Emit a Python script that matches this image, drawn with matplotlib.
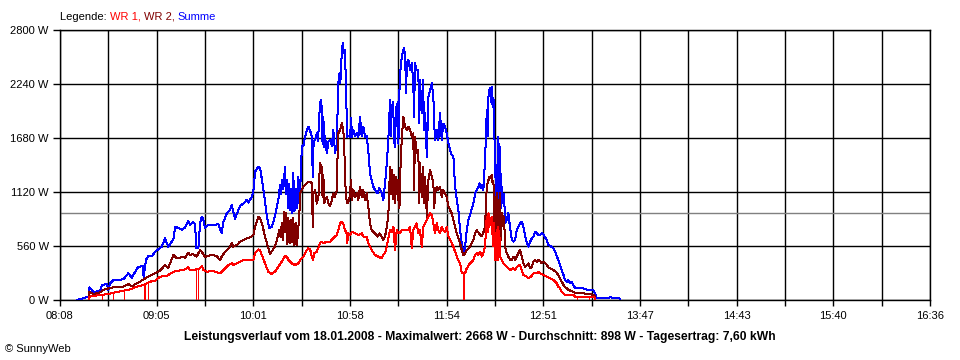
import numpy as np
import matplotlib
matplotlib.use("Agg")
import matplotlib.pyplot as plt
from matplotlib.ticker import FixedLocator, NullFormatter

plt.rcParams['font.family'] = ['Liberation Sans', 'DejaVu Sans']

summe = [
    (18.1, 0), (24.9, 35), (25.2, 130), (27.4, 86), (31.4, 90), (32.4, 155), (35.3, 166), (36.3, 104),
    (37.2, 170), (39.1, 207), (45.0, 214), (47.9, 277), (49.9, 231), (53.7, 345), (56.3, 350), (56.8, 242),
    (58.2, 415), (59.6, 456), (61.7, 456), (63.5, 500), (65.4, 525), (67.4, 553), (69.3, 640), (71.2, 553),
    (74.2, 629), (75.2, 760), (77.1, 745), (79.1, 730), (81.0, 750), (82.9, 822), (83.9, 778), (85.8, 808),
    (86.8, 790), (87.7, 536), (88.8, 536), (89.8, 795), (90.8, 864), (91.5, 850), (92.7, 746), (94.6, 778),
    (98.5, 778), (100.4, 790), (102.4, 691), (103.4, 809), (105.4, 899), (107.3, 933), (108.3, 985),
    (109.0, 930), (110.2, 840), (111.4, 900), (113.1, 975), (115.0, 1000), (117.0, 1037), (118.0, 1010),
    (120.0, 1070), (120.9, 1123), (121.9, 1330), (123.8, 1382), (124.8, 1370), (125.8, 1260), (127.1, 1106),
    (128.7, 881), (130.2, 743), (131.8, 760), (133.6, 881), (135.5, 1037), (136.5, 1192), (137.1, 1100),
    (137.7, 1244), (138.4, 1150), (139.4, 1382), (140.0, 1100), (140.6, 1250), (141.2, 950), (141.7, 1200),
    (142.3, 933), (142.9, 1150), (143.5, 900), (144.2, 1318), (144.9, 920), (145.8, 1150), (146.4, 950),
    (147.2, 1280), (147.9, 980), (148.5, 1250), (149.2, 1590), (150.1, 1600), (151.1, 1693), (152.1, 1763),
    (153.0, 1797), (154.0, 1760), (155.0, 1693), (155.6, 1279), (156.1, 1650), (156.9, 1659), (157.9, 1728),
    (158.7, 1650), (159.3, 1900), (159.8, 2004), (160.2, 2074), (160.8, 2000), (161.3, 1620), (161.8, 1900),
    (162.2, 1590), (162.8, 1700), (163.8, 1521), (164.7, 1640), (165.7, 1659), (166.7, 1600), (167.6, 1763),
    (168.6, 1521), (169.6, 1620), (170.5, 2247), (171.1, 2350), (171.7, 2250), (172.5, 2558), (173.1, 2662),
    (173.6, 2560), (174.4, 2593), (175.0, 2200), (175.7, 1693), (176.4, 1700), (177.4, 1693), (178.0, 1884),
    (178.5, 1693), (179.3, 1763), (180.3, 1700), (181.3, 1730), (182.2, 1690), (183.2, 1901), (184.1, 1700),
    (185.1, 1797), (186.1, 1693), (187.1, 1700), (188.0, 1556), (189.0, 1314), (190.0, 1244), (191.0, 1175),
    (191.9, 1140), (193.3, 1106), (194.5, 1160), (195.9, 1106), (196.8, 1037), (197.8, 1210), (198.8, 1417),
    (199.7, 1659), (200.7, 2074), (201.3, 1700), (201.7, 2000), (202.5, 2050), (203.1, 1650), (203.6, 1590),
    (204.2, 2000), (204.6, 1900), (205.1, 2050), (205.6, 1620), (206.0, 2074), (206.6, 2350), (207.6, 2523),
    (208.5, 2593), (208.9, 2610), (209.5, 2540), (210.1, 2143), (210.5, 2454), (211.4, 2490), (212.4, 2385),
    (213.4, 2454), (214.3, 2247), (214.7, 1900), (215.3, 2454), (216.3, 2385), (217.2, 2385), (217.8, 1830),
    (218.2, 2281), (219.2, 1935), (220.0, 2281), (220.6, 1763), (221.2, 1935), (222.2, 1486), (223.1, 2108),
    (224.1, 2178), (225.1, 2247), (226.0, 2108), (226.5, 1830), (227.0, 1659), (228.0, 1763), (228.9, 1659),
    (229.9, 1936), (230.9, 1659), (231.8, 1830), (232.8, 1795), (233.8, 1728), (234.8, 1625), (235.8, 1556),
    (236.7, 1503), (237.7, 1490), (238.7, 1175), (239.7, 1037), (240.6, 933), (241.6, 726), (242.6, 588),
    (243.5, 500), (244.5, 540), (245.5, 726), (246.4, 830), (247.4, 881), (249.4, 1002), (250.4, 1106),
    (251.3, 1140), (252.3, 1175), (252.9, 1210), (253.6, 1160), (254.3, 1190), (255.2, 1140), (256.2, 1452),
    (256.8, 1763), (257.2, 1970), (257.7, 1700), (258.2, 2108), (258.7, 2178), (259.1, 2195), (259.6, 2050),
    (260.1, 2212), (260.6, 2000), (261.1, 2100), (261.5, 1760), (262.0, 1521), (262.6, 1000), (263.0, 1400),
    (263.5, 950), (264.0, 1693), (264.5, 900), (265.0, 1590), (265.5, 950), (265.9, 1175), (266.5, 1036),
    (266.9, 1002), (267.3, 1100), (267.9, 795), (268.9, 830), (269.8, 900), (270.2, 830), (270.8, 760),
    (271.8, 622), (272.8, 605), (273.7, 622), (274.7, 726), (275.7, 760), (276.6, 795), (277.6, 812),
    (278.6, 760), (279.6, 657), (280.5, 600), (281.5, 553), (282.5, 605), (283.5, 640), (284.4, 657),
    (285.4, 708), (286.4, 690), (287.3, 674), (288.3, 674), (289.3, 691), (290.3, 680), (291.2, 650),
    (292.2, 622), (293.2, 570), (294.2, 560), (296.1, 536), (297.1, 501), (298.0, 456), (299.0, 415),
    (300.0, 363), (301.0, 311), (302.0, 259), (302.9, 207), (303.9, 190), (304.9, 207), (305.8, 173),
    (306.8, 190), (307.8, 155), (308.8, 121), (313.6, 121), (316.5, 104), (319.4, 104), (320.4, 69),
    (321.4, 17), (327.3, 17), (329.2, 27), (333.1, 20), (334.6, 17), (335.0, 0),
]

wr2 = [
    (25.1, 0), (25.2, 86), (27.4, 62), (31.4, 80), (33.3, 104), (36.2, 120), (39.1, 131), (45.0, 140),
    (47.9, 166), (49.9, 140), (52.4, 170), (54.7, 190), (58.6, 235), (62.5, 270), (66.4, 304), (69.3, 363),
    (71.2, 332), (74.2, 467), (75.7, 440), (77.1, 433), (79.8, 450), (81.0, 440), (82.9, 490), (83.9, 467),
    (85.8, 475), (87.8, 450), (89.8, 518), (90.8, 500), (92.7, 446), (94.6, 460), (97.4, 467), (99.5, 455),
    (101.4, 415), (102.4, 450), (104.4, 500), (107.3, 553), (108.3, 588), (109.2, 553), (111.2, 570),
    (113.1, 605), (115.0, 622), (117.0, 640), (119.0, 650), (120.9, 674), (121.9, 760), (123.8, 864),
    (124.8, 850), (126.4, 760), (127.7, 657), (129.1, 570), (130.6, 477), (132.2, 518), (133.6, 560),
    (134.9, 640), (136.1, 726), (136.8, 650), (137.5, 795), (138.1, 620), (138.8, 916), (139.4, 700),
    (140.0, 900), (140.4, 580), (140.9, 850), (141.5, 600), (142.0, 820), (142.3, 590), (142.9, 830),
    (143.5, 600), (144.2, 850), (144.9, 570), (145.8, 800), (146.4, 570), (147.2, 760), (147.8, 900),
    (148.2, 1106), (149.2, 1140), (150.1, 1175), (152.1, 1210), (153.0, 1227), (154.0, 1227), (155.0, 1210),
    (155.6, 760), (156.0, 1106), (156.9, 1140), (157.9, 1000), (158.9, 1071), (159.8, 1417), (160.8, 1380),
    (161.3, 1071), (161.8, 1300), (162.2, 1002), (162.8, 1036), (163.8, 1071), (164.7, 1002), (165.7, 970),
    (166.7, 1036), (167.6, 1106), (168.6, 1071), (169.6, 1140), (170.2, 1590), (170.5, 1728), (171.5, 1763),
    (172.5, 1832), (173.4, 1763), (174.0, 1590), (174.4, 1279), (175.0, 1071), (175.7, 1002), (176.9, 1036),
    (178.0, 1244), (178.5, 1036), (179.3, 1140), (180.3, 1071), (181.3, 1106), (182.2, 1036), (183.2, 1175),
    (184.2, 1071), (185.1, 1140), (186.1, 1036), (187.1, 1106), (188.0, 968), (189.0, 795), (190.0, 726),
    (191.9, 691), (193.3, 657), (194.5, 691), (195.9, 657), (196.8, 622), (197.8, 657), (198.8, 760),
    (199.7, 864), (200.7, 1382), (201.3, 1100), (201.7, 1350), (202.5, 1050), (203.1, 1300), (203.6, 1002),
    (204.2, 1280), (204.6, 1100), (205.1, 1250), (205.6, 1036), (206.2, 950), (206.6, 1279), (207.6, 1693),
    (208.5, 1901), (209.5, 1797), (210.5, 1763), (211.4, 1797), (212.4, 1763), (213.4, 1693), (214.3, 1728),
    (214.7, 1140), (215.3, 1693), (216.3, 1521), (217.2, 1556), (217.8, 1002), (218.2, 1417), (219.2, 1071),
    (220.0, 1380), (220.6, 1002), (221.2, 1279), (222.2, 864), (223.1, 1244), (224.1, 1348), (225.1, 1279),
    (226.0, 1210), (226.5, 950), (227.0, 1106), (228.0, 1175), (228.9, 1140), (229.9, 1175), (230.9, 1071),
    (231.8, 1140), (232.8, 1106), (233.8, 1071), (234.8, 968), (235.8, 933), (236.7, 899), (237.7, 830),
    (238.7, 760), (239.7, 691), (241.6, 588), (242.6, 518), (243.5, 467), (244.5, 480), (245.5, 518),
    (247.4, 553), (249.4, 622), (250.4, 691), (251.3, 726), (252.3, 700), (253.3, 674), (254.3, 660),
    (255.2, 700), (256.2, 760), (256.8, 1037), (257.2, 1175), (258.2, 1244), (258.7, 1279), (259.1, 1262),
    (260.1, 1296), (260.6, 1210), (261.1, 1230), (261.5, 760), (262.0, 1071), (262.6, 622), (263.0, 1106),
    (263.5, 622), (264.0, 1037), (264.5, 553), (265.0, 1106), (265.5, 622), (265.9, 900), (266.5, 864),
    (266.9, 760), (267.3, 864), (267.9, 553), (268.9, 484), (269.8, 450), (270.8, 415), (271.8, 415),
    (272.8, 450), (273.7, 415), (274.7, 450), (275.7, 484), (276.6, 518), (277.6, 450), (278.6, 380),
    (279.6, 345), (280.5, 363), (281.5, 380), (282.5, 328), (283.5, 345), (284.4, 397), (285.4, 415),
    (286.4, 397), (287.3, 415), (288.3, 408), (289.3, 380), (290.3, 397), (292.2, 363), (293.2, 339),
    (294.2, 328), (296.1, 311), (298.0, 283), (299.0, 259), (300.0, 225), (301.0, 190), (302.0, 155),
    (302.9, 131), (303.9, 121), (304.9, 104), (307.8, 86), (308.8, 69), (313.6, 69), (317.5, 62),
    (319.4, 52), (320.4, 35), (320.5, 0),
]

wr1 = [
    (25.1, 0), (25.2, 35), (31.4, 52), (36.2, 62), (39.1, 76), (45.0, 97), (48.9, 110), (52.8, 138),
    (56.6, 155), (60.6, 190), (63.5, 200), (66.4, 242), (70.3, 250), (74.2, 293), (77.1, 304), (80.0, 310),
    (82.9, 339), (83.9, 311), (86.8, 315), (89.8, 328), (90.8, 352), (91.7, 311), (93.7, 294), (97.5, 300),
    (101.4, 276), (103.4, 311), (106.3, 363), (108.3, 380), (109.2, 363), (111.2, 380), (113.1, 397),
    (115.0, 415), (119.0, 410), (120.9, 415), (121.9, 490), (123.8, 525), (124.8, 520), (125.8, 467),
    (127.7, 380), (129.6, 294), (131.6, 270), (133.6, 294), (135.5, 345), (137.5, 397), (139.4, 456),
    (140.4, 450), (141.4, 415), (143.3, 380), (145.2, 363), (147.2, 380), (148.2, 415), (150.1, 449),
    (152.1, 518), (153.0, 536), (154.0, 530), (155.0, 449), (155.8, 415), (156.3, 484), (157.9, 500),
    (159.8, 588), (160.8, 605), (161.8, 588), (163.8, 605), (165.7, 605), (167.6, 640), (169.6, 674),
    (170.5, 726), (171.5, 795), (172.5, 812), (173.4, 795), (174.4, 726), (175.4, 691), (175.7, 588),
    (176.3, 691), (177.4, 674), (178.4, 708), (180.3, 691), (182.2, 674), (184.2, 691), (185.1, 657),
    (187.1, 657), (188.0, 588), (190.0, 518), (191.9, 467), (193.9, 449), (195.9, 432), (196.8, 470),
    (197.8, 484), (198.8, 553), (199.7, 640), (200.7, 726), (201.7, 700), (202.7, 760), (203.6, 518),
    (204.6, 726), (205.6, 691), (206.6, 700), (207.6, 726), (209.5, 726), (211.4, 726), (212.4, 760),
    (213.4, 536), (214.3, 726), (215.3, 760), (216.3, 795), (217.2, 691), (218.2, 726), (219.2, 553),
    (220.2, 760), (221.2, 795), (222.2, 830), (223.1, 864), (224.1, 899), (225.1, 880), (226.0, 795),
    (227.0, 691), (228.0, 795), (228.9, 726), (229.9, 691), (230.9, 760), (231.8, 726), (232.8, 708),
    (233.8, 760), (234.8, 657), (235.8, 622), (236.7, 588), (237.7, 553), (238.7, 500), (239.7, 449),
    (241.6, 380), (242.6, 276), (244.5, 276), (245.5, 328), (247.4, 380), (249.4, 415), (250.4, 467),
    (251.3, 484), (252.3, 470), (253.3, 500), (254.3, 450), (255.2, 484), (256.2, 553), (256.8, 760),
    (257.2, 864), (257.7, 700), (258.2, 900), (258.7, 760), (259.1, 830), (260.1, 864), (260.6, 650),
    (261.1, 560), (261.5, 800), (262.0, 415), (262.6, 700), (263.0, 415), (263.5, 760), (264.0, 415),
    (264.5, 720), (265.0, 450), (265.9, 415), (266.9, 380), (268.9, 345), (270.8, 311), (272.8, 330),
    (273.7, 311), (274.7, 345), (276.6, 363), (277.6, 311), (278.6, 259), (280.5, 242), (281.5, 225),
    (283.5, 250), (284.4, 276), (286.4, 276), (287.3, 290), (288.3, 276), (290.3, 259), (292.2, 242),
    (294.2, 225), (296.1, 207), (298.0, 173), (299.0, 138), (300.0, 121), (301.0, 86), (302.0, 69),
    (302.9, 52), (307.8, 52), (308.8, 35), (317.5, 35), (319.4, 30), (320.4, 25), (320.5, 0),
]

# short dropouts of WR 1 down to zero (minutes after 08:00)
wr1_drops = [32.4, 39.1, 45.4, 56.8, 57.9, 59.1, 87.7, 88.8, 243.2, 243.9, 309.7, 316.7]

tick_labels = ["08:08", "09:05", "10:01", "10:58", "11:54", "12:51", "13:47", "14:43", "15:40", "16:36"]
t_start, t_end = 8, 516
y_ticks = [0, 560, 1120, 1680, 2240, 2800]
durchschnitt = 898

RED, DARKRED, BLUE = '#ff0000', '#800000', '#0000ff'
PX = 0.72  # one pixel in points at 100 dpi

fig = plt.figure(figsize=(9.6, 3.6), dpi=100)
fig.patch.set_facecolor('white')
ax = fig.add_axes([60 / 960, 60 / 360, 870 / 960, 270 / 360])

major = np.linspace(t_start, t_end, len(tick_labels))
minor = (major[:-1] + major[1:]) / 2
ax.xaxis.set_major_locator(FixedLocator(major))
ax.xaxis.set_minor_locator(FixedLocator(minor))
ax.xaxis.set_minor_formatter(NullFormatter())
ax.set_xticklabels(tick_labels)
ax.set_yticks(y_ticks)
ax.set_yticklabels([f"{v} W" for v in y_ticks])
ax.set_xlim(t_start, t_end)
ax.set_ylim(0, 2800)

ax.grid(which='both', color='black', lw=1.4 * PX)
ax.set_axisbelow(True)
for s in ax.spines.values():
    s.set_color('black')
    s.set_linewidth(1.4 * PX)
ax.tick_params(which='both', axis='x', length=4 * PX * 1.4, width=1.4 * PX, pad=4, labelsize=8)
ax.tick_params(axis='y', length=5 * PX * 1.4, width=1.4 * PX, pad=3, labelsize=8)

ax.axhline(durchschnitt, color='#808080', lw=1.4 * PX, zorder=1.5)

# 1 px lines, no smoothing, like the original GDI drawing
for series, col in [(summe, BLUE), (wr2, DARKRED), (wr1, RED)]:
    t, w = np.array(series).T
    ax.plot(t, w, color=col, lw=PX, zorder=3, antialiased=False)

t1, w1 = np.array(wr1).T
ax.vlines(wr1_drops, 0, np.interp(wr1_drops, t1, w1), color=RED, lw=PX, zorder=3,
          antialiased=False)

# legend line on top
txt = fig.text(60 / 960, 1 - 16.5 / 360, "Legende: ", color='black', fontsize=8, va='center')
for part, col in [("WR 1, ", RED), ("WR 2, ", DARKRED), ("Summe", BLUE)]:
    txt = ax.annotate(part, xy=(1, 0), xycoords=txt, va='bottom', ha='left', color=col, fontsize=8)

fig.text(480 / 960, 1 - 337 / 360,
         "Leistungsverlauf vom 18.01.2008 - Maximalwert: 2668 W - Durchschnitt: 898 W - Tagesertrag: 7,60 kWh",
         ha='center', va='center', fontsize=8.7, fontweight='bold')
fig.text(5 / 960, 1 - 349 / 360, "\u00a9 SunnyWeb", ha='left', va='center', fontsize=8)

fig.savefig("out.png", dpi=100, facecolor='white')
